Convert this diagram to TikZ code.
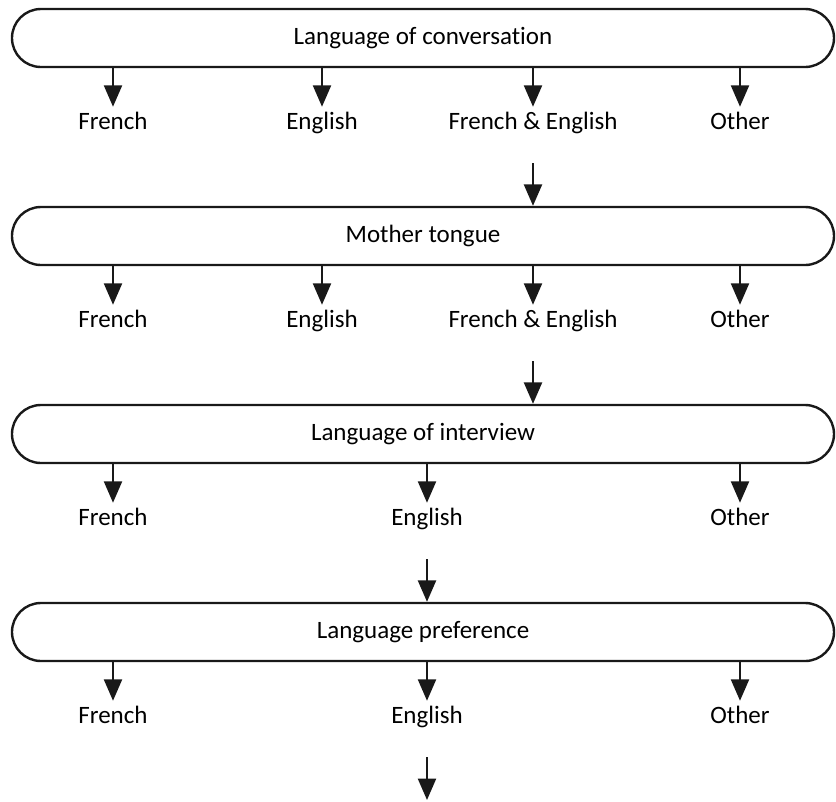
\documentclass[tikz,border=0pt]{standalone}
\usepackage{fontspec}
\setmainfont[Ligatures={NoCommon}]{Carlito}
\usetikzlibrary{arrows.meta,positioning}

\begin{document}
\begin{tikzpicture}[x=0.75pt,y=-0.75pt,>={Triangle[length=16pt,width=13.5pt]},
  stage/.style={draw=black!90,line width=1.8pt,rounded corners=21.7pt,minimum width=616.5pt,minimum height=43.5pt,inner sep=0pt,font=\fontsize{18.75pt}{22pt}\selectfont},
  choice/.style={anchor=base,inner sep=0pt,text height=16.5pt,text depth=0pt,font=\fontsize{18.75pt}{22pt}\selectfont},
  flow/.style={->,line width=1.5pt,black!90}]
\useasboundingbox (0,0) rectangle (836,801);
% first stage
\node[stage] (b1) at (423,38) {Language of conversation};
\node[choice] (f1) at (113,129) {French};
\node[choice] (e1) at (322,129) {English};
\node[choice] (fe1) at (533,129) {French \& English};
\node[choice] (o1) at (740,129) {Other};
\draw[flow] (b1.south -| f1) -- (f1.north);
\draw[flow] (b1.south -| e1) -- (e1.north);
\draw[flow] (b1.south -| fe1) -- (fe1.north);
\draw[flow] (b1.south -| o1) -- (o1.north);
% second stage
\node[stage] (b2) at (423,236) {Mother tongue};
\draw[flow] ([yshift=-25.5pt]fe1.south) -- (b2.north -| fe1);
\node[choice] (f2) at (113,327) {French};
\node[choice] (e2) at (322,327) {English};
\node[choice] (fe2) at (533,327) {French \& English};
\node[choice] (o2) at (740,327) {Other};
\draw[flow] (b2.south -| f2) -- (f2.north);
\draw[flow] (b2.south -| e2) -- (e2.north);
\draw[flow] (b2.south -| fe2) -- (fe2.north);
\draw[flow] (b2.south -| o2) -- (o2.north);
% third stage
\node[stage] (b3) at (423,434) {Language of interview};
\draw[flow] ([yshift=-25.5pt]fe2.south) -- (b3.north -| fe2);
\node[choice] (f3) at (113,525) {French};
\node[choice] (e3) at (427,525) {English};
\node[choice] (o3) at (740,525) {Other};
\draw[flow] (b3.south -| f3) -- (f3.north);
\draw[flow] (b3.south -| e3) -- (e3.north);
\draw[flow] (b3.south -| o3) -- (o3.north);
% fourth stage
\node[stage] (b4) at (423,632) {Language preference};
\draw[flow] ([yshift=-25.5pt]e3.south) -- (b4.north -| e3);
\node[choice] (f4) at (113,723) {French};
\node[choice] (e4) at (427,723) {English};
\node[choice] (o4) at (740,723) {Other};
\draw[flow] (b4.south -| f4) -- (f4.north);
\draw[flow] (b4.south -| e4) -- (e4.north);
\draw[flow] (b4.south -| o4) -- (o4.north);
\coordinate (next) at (427,800);
\draw[flow] ([yshift=-25.5pt]e4.south) -- (next);
\end{tikzpicture}
\end{document}
